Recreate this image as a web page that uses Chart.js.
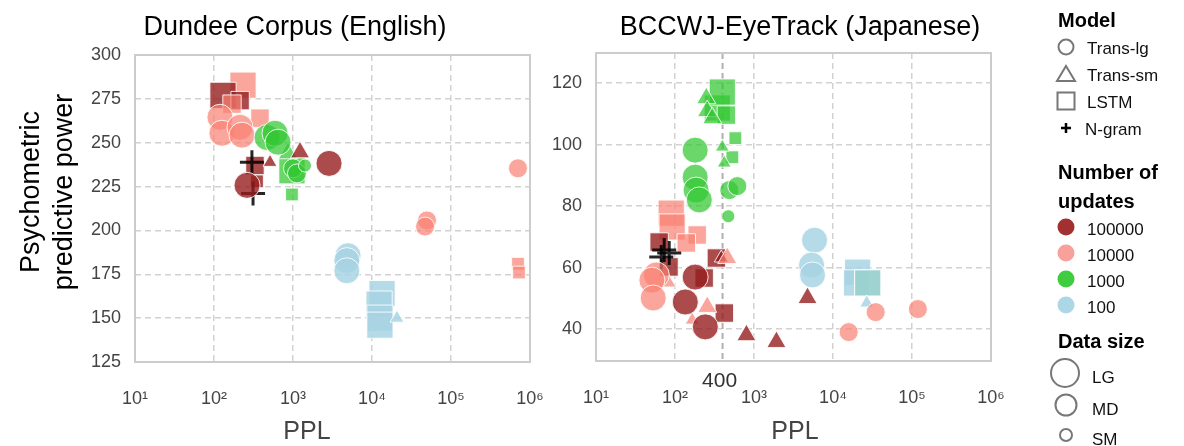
<!DOCTYPE html>
<html><head><meta charset="utf-8">
<script src="https://cdn.jsdelivr.net/npm/chart.js@4.4.1/dist/chart.umd.min.js"></script>
<style>
body{margin:0;width:1184px;height:446px;overflow:hidden;background:#fff;font-family:"Liberation Sans",Arial,sans-serif;position:relative}
canvas{position:absolute;top:0}
.t{position:absolute;white-space:nowrap;transform:translate(-50%,-50%);line-height:1}
.l{position:absolute;white-space:nowrap;line-height:1;transform:translateY(-50%)}
.h{font-weight:bold;font-size:20px;color:#000}
.i{font-size:17px;color:#111}
svg{position:absolute;overflow:visible}
</style></head><body>
<canvas id="cL" width="560" height="446" style="left:0"></canvas>
<canvas id="cR" width="480" height="446" style="left:540px"></canvas>

<div class="t" style="left:295px;top:26px;font-size:27px">Dundee Corpus (English)</div>
<div class="t" style="left:800px;top:26px;font-size:27px">BCCWJ-EyeTrack (Japanese)</div>
<div class="t" style="left:307px;top:430px;font-size:25px;color:#444">PPL</div>
<div class="t" style="left:795px;top:430px;font-size:25px;color:#444">PPL</div>
<div class="t" style="left:30px;top:192px;font-size:27px;transform:translate(-50%,-50%) rotate(-90deg)">Psychometric</div>
<div class="t" style="left:63px;top:192px;font-size:27px;transform:translate(-50%,-50%) rotate(-90deg)">predictive power</div>

<div id="legend"></div>

<script>
// ---------- Tick labels ----------
const xTickValues = [10, 100, 1000, 10000, 100000, 1000000];
const dundeeYTicks = [125, 150, 175, 200, 225, 250, 275, 300];
const bccwjYTicks = [40, 60, 80, 100, 120];

// ---------- Legend categories ----------
const modelNames = ['Trans-lg', 'Trans-sm', 'LSTM', 'N-gram'];
const updateNames = ['100000', '10000', '1000', '100'];
const sizeNames = ['LG', 'MD', 'SM'];

// ---------- Dundee Corpus (English) ----------
const dundeePPL = [
  233, 130, 214, 169, 382, 330, 350, 970, 970, 13400, 12300, 12600, 12600, 705000, 726000,
  865, 1227, 512, 20700,
  302, 312,
  119, 126, 213, 226, 469, 592, 646, 1000, 1123, 1419, 262, 2858, 704000, 49700, 46900, 4970, 4800, 4800
];
const dundeePower = [
  282.8, 277, 274, 272, 264, 237, 228, 234, 220.5, 164, 158, 150, 146, 181, 176,
  244, 244.5, 238.8, 150,
  238.8, 221,
  264.5, 255.4, 258.8, 254.3, 253, 255.4, 250.3, 235.4, 232.5, 237, 225.7, 238.2, 235.4, 205.7, 202.2, 185.6, 182.8, 177
];
const dundeeModel = [
  'LSTM','LSTM','LSTM','LSTM','LSTM','LSTM','LSTM','LSTM','LSTM','LSTM','LSTM','LSTM','LSTM','LSTM','LSTM',
  'Trans-sm','Trans-sm','Trans-sm','Trans-sm',
  'N-gram','N-gram',
  'Trans-lg','Trans-lg','Trans-lg','Trans-lg','Trans-lg','Trans-lg','Trans-lg','Trans-lg','Trans-lg','Trans-lg','Trans-lg','Trans-lg','Trans-lg','Trans-lg','Trans-lg','Trans-lg','Trans-lg','Trans-lg'
];
const dundeeUpdates = [
  '10000','100000','100000','10000','10000','100000','100000','1000','1000','100','100','100','100','10000','10000',
  '1000','100000','100000','100',
  null, null,
  '10000','10000','10000','10000','1000','1000','1000','1000','1000','1000','100000','100000','10000','10000','10000','100','100','100'
];
const dundeeSize = [
  'LG','LG','MD','MD','MD','MD','SM','LG','SM','LG','LG','LG','LG','SM','SM',
  'MD','MD','SM','SM',
  'LG','LG',
  'LG','LG','LG','LG','LG','LG','LG','MD','MD','SM','LG','LG','MD','MD','MD','LG','LG','LG'
];

// ---------- BCCWJ-EyeTrack (Japanese) ----------
const bccwjPPL = [
  343, 397, 447, 581, 532, 89.5, 92, 191, 139, 63, 84, 334, 234, 421, 20500, 19900, 27500, 27500,
  249, 255, 297, 397, 420, 385, 459, 256, 165, 84, 802, 1923, 4760, 26700,
  73, 84.5, 67,
  180, 180, 185, 203, 487, 615, 473, 58, 51, 53, 180, 135, 242, 5840, 5350, 5500, 34700, 118600, 15800
];
const bccwjPower = [
  111.9, 117.1, 109.6, 102.1, 95.9, 77.7, 73.2, 70.6, 68, 68.3, 60.2, 63.1, 56.6, 45.2, 58.5, 55, 55, 55,
  115.1, 110.9, 108.6, 99.2, 94, 63.1, 63.1, 47.2, 42.9, 55, 38, 35.8, 50.1, 48.5,
  65.7, 64.7, 63.4,
  98.2, 89.4, 85.2, 82, 85.2, 86.5, 76.7, 57.6, 55.9, 50.1, 56.9, 48.8, 40.7, 68.9, 60.8, 57.6, 45.5, 46.5, 39
];
const bccwjModel = [
  'LSTM','LSTM','LSTM','LSTM','LSTM','LSTM','LSTM','LSTM','LSTM','LSTM','LSTM','LSTM','LSTM','LSTM','LSTM','LSTM','LSTM','LSTM',
  'Trans-sm','Trans-sm','Trans-sm','Trans-sm','Trans-sm','Trans-sm','Trans-sm','Trans-sm','Trans-sm','Trans-sm','Trans-sm','Trans-sm','Trans-sm','Trans-sm',
  'N-gram','N-gram','N-gram',
  'Trans-lg','Trans-lg','Trans-lg','Trans-lg','Trans-lg','Trans-lg','Trans-lg','Trans-lg','Trans-lg','Trans-lg','Trans-lg','Trans-lg','Trans-lg','Trans-lg','Trans-lg','Trans-lg','Trans-lg','Trans-lg','Trans-lg'
];
const bccwjUpdates = [
  '1000','1000','1000','1000','1000','10000','10000','10000','10000','100000','100000','100000','100000','100000','100','100','1000','100',
  '1000','1000','1000','1000','1000','100000','10000','10000','10000','10000','100000','100000','100000','100',
  null, null, null,
  '1000','1000','1000','1000','1000','1000','1000','10000','10000','10000','100000','100000','100000','100','100','100','10000','10000','10000'
];
const bccwjSize = [
  'LG','LG','MD','SM','SM','LG','LG','MD','MD','MD','MD','MD','MD','MD','LG','LG','LG','LG',
  'MD','MD','MD','SM','SM','SM','MD','MD','SM','SM','MD','MD','MD','SM',
  'LG','LG','LG',
  'LG','LG','LG','LG','MD','MD','SM','LG','LG','LG','LG','LG','LG','LG','LG','LG','MD','MD','MD'
];

// ---------- Styling ----------
const fillColors = {
  '100000': 'rgba(150,30,30,0.8)',
  '10000': 'rgba(250,128,114,0.7)',
  '1000': 'rgba(50,200,50,0.72)',
  '100': 'rgba(168,212,228,0.85)'
};
const legendColors = {'100000':'#a33030','10000':'#f8a09a','1000':'#40cc40','100':'#acd7e6'};
const styleOf = {'Trans-lg':'circle','Trans-sm':'triangle','LSTM':'rect','N-gram':'cross'};
const radiusOf = {
  circle: {LG:13, MD:9.5, SM:6.5},
  triangle: {LG:13, MD:11, SM:8},
  rect: {LG:18.5, MD:13, SM:9},
  cross: {LG:12, MD:12, SM:12}
};
const sup = {1:'¹',2:'²',3:'³',4:'⁴',5:'⁵',6:'⁶'};
const FONT = '"Liberation Sans", Arial, sans-serif';

function buildDataset(ppl, power, model, upd, size) {
  const st = model.map(m => styleOf[m]);
  return {
    data: ppl.map((x, i) => ({x: x, y: power[i]})),
    pointStyle: st,
    pointRadius: st.map((s, i) => radiusOf[s][size[i]]),
    backgroundColor: upd.map(u => u ? fillColors[u] : 'rgba(0,0,0,0)'),
    borderColor: st.map(s => s === 'cross' ? 'rgba(0,0,0,0.85)' : 'rgba(255,255,255,0.85)'),
    borderWidth: st.map(s => s === 'cross' ? 3 : 1),
    showLine: false
  };
}

const frame = {
  id: 'frame',
  beforeDatasetsDraw(chart, args, opts) {
    const c = chart.ctx, a = chart.chartArea;
    c.save();
    if (opts.refLine) {
      const x = chart.scales.x.getPixelForValue(opts.refLine);
      c.strokeStyle = '#b0b0b0'; c.lineWidth = 2; c.setLineDash([6, 4]);
      c.beginPath(); c.moveTo(x, a.top); c.lineTo(x, a.bottom); c.stroke();
      c.setLineDash([]);
      c.fillStyle = '#333'; c.font = '21px ' + FONT; c.textAlign = 'center'; c.textBaseline = 'middle';
      c.fillText(String(opts.refLine), x - 3, a.bottom + 20);
    }
    c.strokeStyle = '#cccccc'; c.lineWidth = 2;
    c.strokeRect(a.left, a.top, a.right - a.left, a.bottom - a.top);
    c.restore();
  }
};

function makeChart(id, ds, yMin, yMax, yTicks, yWidth, padTop, padRight, plotBottom, refLine) {
  return new Chart(document.getElementById(id), {
    type: 'scatter',
    data: {datasets: [ds]},
    plugins: [frame],
    options: {
      responsive: false, animation: false, events: [],
      layout: {padding: {top: padTop, right: padRight, left: 0, bottom: 0}},
      plugins: {legend: {display: false}, tooltip: {enabled: false}, frame: {refLine: refLine}},
      scales: {
        x: {
          type: 'logarithmic', min: 10, max: 1000000,
          afterBuildTicks: s => { s.ticks = xTickValues.map(v => ({value: v})); },
          afterFit: s => { s.height = 446 - plotBottom; s.paddingRight = 0; s.paddingLeft = 0; },
          ticks: {
            callback: v => '10' + sup[Math.round(Math.log10(v))],
            color: '#444', font: {family: FONT, size: 18}, padding: 26, maxRotation: 0, autoSkip: false
          },
          grid: {color: '#d2d2d2', lineWidth: 1.5, drawTicks: false},
          border: {display: false, dash: [6, 4]}
        },
        y: {
          min: yMin, max: yMax,
          afterBuildTicks: s => { s.ticks = yTicks.map(v => ({value: v})); },
          afterFit: s => { s.width = yWidth; s.paddingTop = 0; s.paddingBottom = 0; },
          ticks: {color: '#444', font: {family: FONT, size: 18}, padding: 14},
          grid: {color: '#d2d2d2', lineWidth: 1.5, drawTicks: false},
          border: {display: false, dash: [6, 4]}
        }
      }
    }
  });
}

makeChart('cL', buildDataset(dundeePPL, dundeePower, dundeeModel, dundeeUpdates, dundeeSize),
  125, 300, dundeeYTicks, 135, 55, 30, 362, null);
makeChart('cR', buildDataset(bccwjPPL, bccwjPower, bccwjModel, bccwjUpdates, bccwjSize),
  29.6, 129.8, bccwjYTicks, 56, 53, 29, 361, 400);

// ---------- Legend (HTML) ----------
(function () {
  const L = document.getElementById('legend');
  let h = '';
  const gray = '#777';
  h += '<div class="l h" style="left:1058px;top:20px">Model</div>';
  const my = [47, 74, 101, 128];
  const icons = [
    '<circle cx="0" cy="0" r="7.5" fill="none" stroke="'+gray+'" stroke-width="2"/>',
    '<polygon points="0,-8 9,7 -9,7" fill="none" stroke="'+gray+'" stroke-width="2"/>',
    '<rect x="-8.5" y="-8.5" width="17" height="17" fill="none" stroke="'+gray+'" stroke-width="2"/>',
    '<path d="M-5,0 H5 M0,-5 V5" stroke="#000" stroke-width="2.5"/>'
  ];
  modelNames.forEach((m, i) => {
    h += '<svg width="1" height="1" style="left:1066px;top:' + my[i] + 'px">' + icons[i] + '</svg>';
    h += '<div class="l i" style="left:' + (i === 3 ? 1085 : 1087) + 'px;top:' + (my[i] + 1) + 'px">' + m + '</div>';
  });
  h += '<div class="l h" style="left:1058px;top:172px">Number of</div>';
  h += '<div class="l h" style="left:1058px;top:201px">updates</div>';
  const uy = [228, 254, 280, 306];
  updateNames.forEach((u, i) => {
    h += '<svg width="1" height="1" style="left:1066px;top:' + (uy[i] - 1) + 'px"><circle cx="0" cy="0" r="8.5" fill="' + legendColors[u] + '"/></svg>';
    h += '<div class="l i" style="left:1087px;top:' + (uy[i] + 1) + 'px">' + u + '</div>';
  });
  h += '<div class="l h" style="left:1058px;top:341px">Data size</div>';
  const sy = [373, 405, 435], sr = [14, 10.5, 6], sx = [1065, 1066, 1066];
  sizeNames.forEach((s, i) => {
    h += '<svg width="1" height="1" style="left:' + sx[i] + 'px;top:' + sy[i] + 'px"><circle cx="0" cy="0" r="' + sr[i] + '" fill="none" stroke="' + gray + '" stroke-width="2"/></svg>';
    h += '<div class="l i" style="left:1092px;top:' + (sy[i] + 4) + 'px">' + s + '</div>';
  });
  L.innerHTML = h;
})();
</script>
</body></html>
